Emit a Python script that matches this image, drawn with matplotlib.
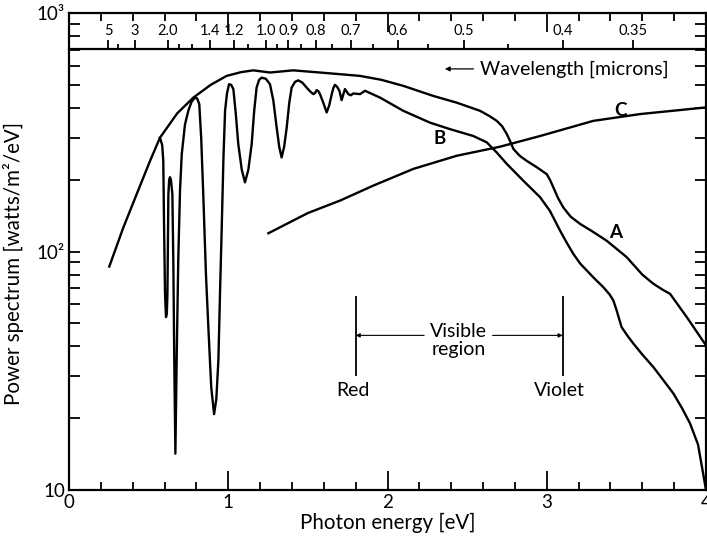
import numpy as np
import matplotlib
matplotlib.use('Agg')
from matplotlib import pyplot as plt
from matplotlib.ticker import MultipleLocator, FixedLocator, NullFormatter

plt.rcParams['font.family'] = ['Lato', 'DejaVu Sans']

# curve A : upper envelope
a_energy = [0.253, 0.341, 0.425, 0.509, 0.571, 0.680, 0.781, 0.890, 0.990, 1.080, 1.157, 1.262,
            1.408, 1.576, 1.702, 1.827, 1.960, 2.099, 2.288, 2.434, 2.581, 2.640, 2.686, 2.720,
            2.749, 2.770, 2.791, 2.830, 2.874, 2.940, 3.000, 3.020, 3.041, 3.070, 3.104, 3.150,
            3.209, 3.290, 3.376, 3.502, 3.600, 3.669, 3.730, 3.774, 3.879, 4.0]
a_power = [86.5, 126, 174, 240, 300, 380, 442, 500, 545, 565, 575, 563,
           575, 563, 554, 545, 525, 495, 449, 421, 389, 370, 353, 335,
           311, 290, 269, 252, 240, 225, 211, 200, 186, 168, 153, 140,
           130.6, 121, 111, 94.7, 80, 73.3, 69, 66.5, 53.1, 40.4]

# curve B : with absorption bands
b_energy = [0.571, 0.585, 0.592, 0.597, 0.603, 0.609, 0.614, 0.618, 0.624, 0.629, 0.634,
            0.640, 0.645, 0.649, 0.655, 0.661, 0.668, 0.676, 0.686, 0.697, 0.708, 0.728,
            0.749, 0.770, 0.791, 0.805, 0.818, 0.830, 0.843, 0.860, 0.875, 0.893, 0.911,
            0.925, 0.938, 0.949, 0.959, 0.970, 0.980, 0.992, 1.005, 1.018, 1.032, 1.047,
            1.063, 1.085, 1.105, 1.126, 1.147, 1.163, 1.178, 1.194, 1.210, 1.236, 1.262,
            1.283, 1.304, 1.320, 1.335, 1.351, 1.367, 1.383, 1.398, 1.420, 1.440, 1.466,
            1.492, 1.513, 1.534, 1.545, 1.555, 1.566, 1.576, 1.597, 1.618, 1.634, 1.650,
            1.660, 1.670, 1.684, 1.698, 1.712, 1.722, 1.733, 1.754, 1.770, 1.785, 1.827,
            1.859, 1.953, 2.099, 2.267, 2.392, 2.539, 2.623, 2.686, 2.749, 2.853, 2.958,
            3.020, 3.083, 3.125, 3.167, 3.210, 3.251, 3.300, 3.355, 3.395, 3.418, 3.439,
            3.455, 3.470, 3.505, 3.544, 3.600, 3.669, 3.730, 3.795, 3.850, 3.900, 3.950, 4.0]
b_power = [300, 280, 240, 126, 66.5, 53.1, 55, 66, 174, 200, 205,
           200, 185, 174, 91.7, 35, 14.2, 35, 91.7, 180, 256, 340,
           389, 425, 442, 438, 415, 300, 174, 80, 48.2, 27, 20.8,
           24, 35, 70, 126, 250, 389, 460, 503, 500, 480, 380,
           282, 220, 195, 220, 282, 390, 487, 525, 536, 530, 503,
           430, 331, 275, 248, 275, 331, 420, 487, 515, 522, 510,
           487, 470, 457, 462, 475, 470, 457, 420, 383, 410, 457,
           485, 500, 490, 472, 431, 455, 480, 457, 452, 460, 457,
           472, 442, 389, 347, 326, 305, 287, 260, 233, 198, 169,
           148, 122.5, 109, 97.7, 89, 83.3, 77, 70.9, 66, 62.4, 56.6,
           52, 48.2, 44.5, 41.1, 37, 32.8, 29, 25.4, 22, 19.0, 15.5, 10.0]

# curve C
c_energy = [1.252, 1.500, 1.702, 1.911, 2.162, 2.434, 2.706, 2.958, 3.292, 3.586, 4.0]
c_power = [119.3, 145, 163.5, 189, 222, 252, 275, 305, 353, 377, 402]

# wavelength scale (microns)
wl_major = [5, 3, 2.0, 1.4, 1.2, 1.0, 0.9, 0.8, 0.7, 0.6, 0.5, 0.4, 0.35]
wl_labels = ['5', '3', '2.0', '1.4', '1.2', '1.0', '0.9', '0.8', '0.7', '0.6', '0.5', '0.4', '0.35']
wl_minor = [4, 1.8, 1.6, 1.1, 0.95, 0.85, 0.75, 0.65, 0.55, 0.45]

red_edge = 1.8
violet_edge = 3.1

hc = 1.2398


def e2l(e):
    e = np.maximum(np.asarray(e, dtype=float), 1e-6)
    return hc / e


def l2e(l):
    l = np.maximum(np.asarray(l, dtype=float), 1e-6)
    return hc / l


fig = plt.figure(figsize=(7.07, 5.45), dpi=100)
ax = fig.add_axes([0.0976, 0.1009, 0.901, 0.8752])

ax.plot(a_energy, a_power, color='black', lw=1.7, solid_joinstyle='round')
ax.plot(b_energy, b_power, color='black', lw=1.7, solid_joinstyle='round')
ax.plot(c_energy, c_power, color='black', lw=1.7, solid_joinstyle='round')

ax.set_yscale('log')
ax.set_xlim(0, 4)
ax.set_ylim(10, 1000)

ax.xaxis.set_major_locator(MultipleLocator(1))
ax.xaxis.set_minor_locator(MultipleLocator(0.2))
ax.yaxis.set_major_locator(FixedLocator([10, 100, 1000]))
ax.set_yticklabels(['10', '10²', '10³'])
ax.yaxis.set_minor_formatter(NullFormatter())

ax.tick_params(axis='both', direction='in', top=True, right=True, width=1.3,
               labelsize=13.5, colors='black')
ax.tick_params(axis='x', which='major', length=14, pad=3)
ax.tick_params(axis='x', which='minor', length=5.5, width=1.3, direction='in', top=True)
ax.tick_params(axis='y', which='both', length=8, width=1.3, direction='in', right=True, pad=3)
for s in ax.spines.values():
    s.set_linewidth(1.6)

ax.set_xlabel('Photon energy [eV]', fontsize=14.8, labelpad=1)
ax.set_ylabel('Power spectrum [watts/m²/eV]', fontsize=14.8)
ax.yaxis.set_label_coords(-0.071, 0.474)

# wavelength strip at top
sec = ax.secondary_xaxis(0.9245, functions=(e2l, l2e))
sec.set_xticks(wl_major)
sec.set_xticklabels(wl_labels)
sec.xaxis.set_minor_locator(FixedLocator(wl_minor))
sec.xaxis.set_minor_formatter(NullFormatter())
sec.tick_params(which='major', direction='out', length=6.5, width=1.3, pad=1.5, labelsize=10.5)
sec.tick_params(which='minor', direction='out', length=3.5, width=1.3)
sec.tick_params(axis='x', bottom=False, which='both')
for s in sec.spines.values():
    s.set_linewidth(1.6)

ax.annotate('', xy=(2.36, 583), xytext=(2.54, 583),
            arrowprops=dict(arrowstyle='-|>', color='black', lw=0.9,
                            mutation_scale=7, shrinkA=0, shrinkB=0))
ax.text(2.58, 583, 'Wavelength [microns]', fontsize=14, va='center', ha='left')

ax.text(2.33, 297, 'B', fontsize=13.5, fontweight='bold', ha='center', va='center')
ax.text(3.46, 389, 'C', fontsize=13.5, fontweight='bold', ha='center', va='center')
ax.text(3.435, 120, 'A', fontsize=13.5, fontweight='bold', ha='center', va='center')

# visible region markers
ax.vlines([red_edge, violet_edge], 30, 65, color='black', lw=1.3)
ax.text(red_edge - 0.02, 28.5, 'Red', fontsize=14, ha='center', va='top')
ax.text(violet_edge - 0.02, 28.5, 'Violet', fontsize=14, ha='center', va='top')
ax.text(2.445, 42.4, 'Visible\nregion', fontsize=14, ha='center', va='center',
        linespacing=1.1)
ax.annotate('', xy=(red_edge, 44.5), xytext=(2.23, 44.5),
            arrowprops=dict(arrowstyle='-|>', color='black', lw=0.8,
                            mutation_scale=6, shrinkA=0, shrinkB=0))
ax.annotate('', xy=(violet_edge, 44.5), xytext=(2.66, 44.5),
            arrowprops=dict(arrowstyle='-|>', color='black', lw=0.8,
                            mutation_scale=6, shrinkA=0, shrinkB=0))

plt.savefig('out.png', dpi=100)
